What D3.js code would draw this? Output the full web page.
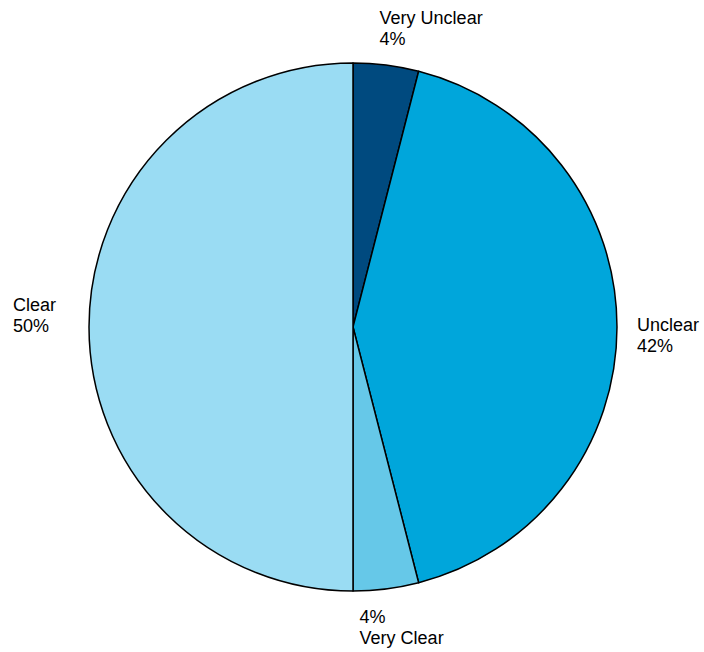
<!DOCTYPE html>
<html>
<head>
<meta charset="utf-8">
<script src="https://cdn.jsdelivr.net/npm/d3@7"></script>
<style>
  html, body { margin: 0; padding: 0; background: #fff; }
  svg { display: block; }
  text { font-family: "Liberation Sans", Arial, sans-serif; font-size: 18px; fill: #000; }
</style>
</head>
<body>
<svg id="chart" width="704" height="652"></svg>
<script>
// Responses, clockwise from 12 o'clock
const categories = ["Very Unclear", "Unclear", "Very Clear", "Clear"];
const values = [4, 42, 4, 50];
const colors = ["#004A7F", "#00A6DB", "#66C8E8", "#9ADCF3"];

const width = 704, height = 652;
const cx = 353, cy = 327, radius = 264;

const svg = d3.select("#chart");
const g = svg.append("g").attr("transform", `translate(${cx},${cy})`);

const pie = d3.pie().sort(null).value(d => d.value);
const arc = d3.arc().innerRadius(0).outerRadius(radius);

const data = categories.map((c, i) => ({ name: c, value: values[i], color: colors[i] }));
const arcs = pie(data);

g.selectAll("path.slice")
  .data(arcs)
  .join("path")
  .attr("class", "slice")
  .attr("d", arc)
  .attr("fill", d => d.data.color)
  .attr("stroke", "#000")
  .attr("stroke-width", 1.5)
  .attr("stroke-linejoin", "round");

// Label placement: point just outside the rim at each slice's mid-angle,
// then a small per-slice nudge so the two-line block clears the pie.
const labelR = radius + 20;
const nudges = [
  { dx: -9,  dy: -21, bottomFirst: false },
  { dx: 0,   dy: 4,   bottomFirst: false },
  { dx: -29, dy: 14,  bottomFirst: true },
  { dx: -56, dy: -16, bottomFirst: false }
];
const lineH = 21;

arcs.forEach((a, i) => {
  const mid = (a.startAngle + a.endAngle) / 2;
  const ax = Math.sin(mid) * labelR;
  const ay = -Math.cos(mid) * labelR;
  const n = nudges[i];
  const lines = n.bottomFirst
    ? [a.data.value + "%", a.data.name]
    : [a.data.name, a.data.value + "%"];
  const t = g.append("text")
    .attr("x", ax + n.dx)
    .attr("y", ay + n.dy);
  lines.forEach((s, k) => {
    t.append("tspan")
      .attr("x", ax + n.dx)
      .attr("dy", k === 0 ? 0 : lineH)
      .text(s);
  });
});
</script>
</body>
</html>
